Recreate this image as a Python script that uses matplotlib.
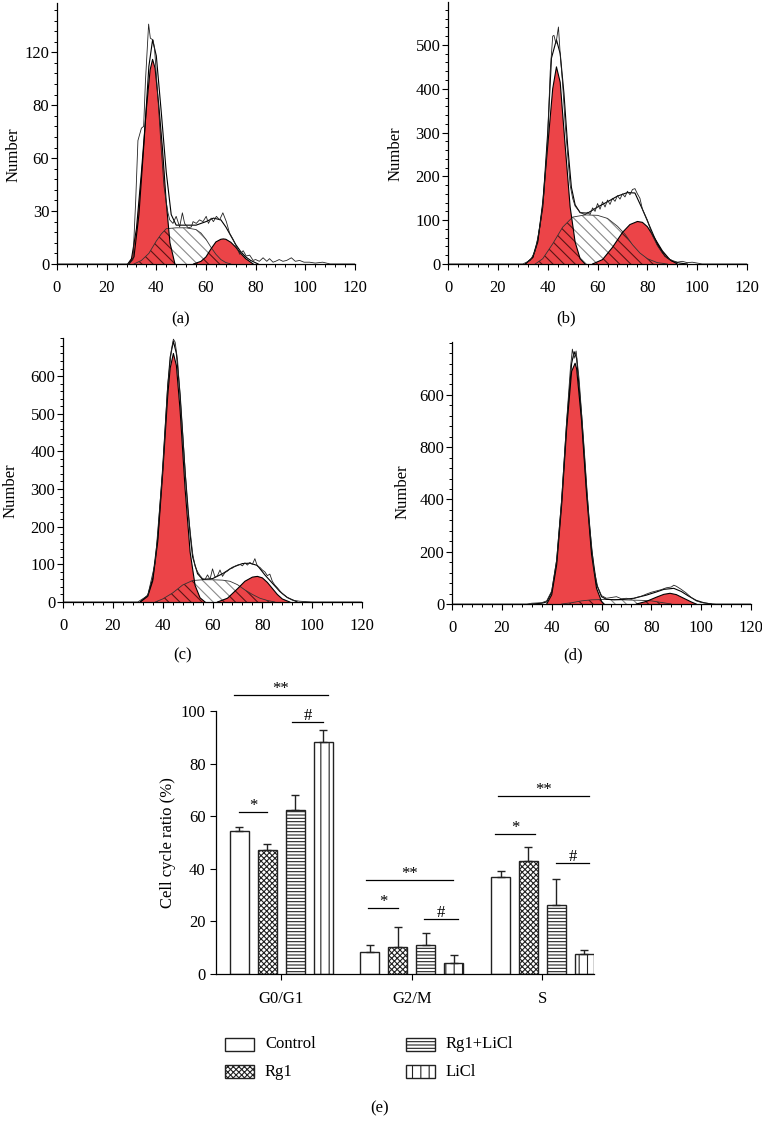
import numpy as np
import matplotlib
matplotlib.use('Agg')
import matplotlib.pyplot as plt
import matplotlib.ticker as tic
from matplotlib.patches import Rectangle

plt.rcParams['font.family'] = ['Liberation Serif', 'DejaVu Serif']
plt.rcParams['font.size'] = 12
plt.rcParams['hatch.linewidth'] = 0.8

RED = '#ec4448'

# ---- panel (a) ----
a_g1_x = [28.5, 30, 32, 34, 36, 37.5, 38.5, 39.5, 41, 42.5, 44, 45.5, 47.5]
a_g1_y = [0, 3, 20, 52, 88, 110, 116, 111, 90, 65, 35, 12, 0]
a_s_x = [31, 34, 37, 40, 42, 44, 48, 52, 56, 58, 60, 62, 64, 66, 68, 70]
a_s_y = [0, 2, 6, 13, 17, 20, 20.5, 20.5, 19.5, 17.5, 14, 9.5, 5.5, 2.5, 0.8, 0]
a_g2_x = [55, 58, 60, 62, 64, 66, 67, 68, 70, 72, 74, 76, 79]
a_g2_y = [0, 1.5, 4, 8.5, 12.5, 14, 14.2, 14, 12.3, 9.5, 6, 3, 0]
a_fit_x = [29, 31, 33, 35, 37, 38.5, 40, 42, 44, 46, 48, 52, 56, 60, 63, 66, 68, 70, 72, 74, 76, 78, 81]
a_fit_y = [0, 4, 28, 68, 112, 127, 118, 86, 52, 28, 22, 22, 22, 24, 26, 25, 21, 16, 11, 7, 4, 2, 0]
a_raw = [(0, 0), (29, 0), (30.6, 2.5), (31.7, 36), (32.6, 70), (34, 77), (34.9, 78), (35.6, 103), (36.9, 136),
         (37.6, 128), (38.7, 127), (39.3, 122), (40.7, 93), (42, 65), (43.1, 44), (44, 35), (44.7, 29), (45.4, 25),
         (46.7, 23), (48, 27), (49.4, 21), (50.5, 29), (51.4, 23), (52.8, 20.5), (54.1, 21), (54.8, 24), (56.1, 23),
         (57.4, 25), (58.8, 24), (60.1, 27), (61, 23), (62.1, 26), (63, 24), (64.2, 27), (65.5, 25), (66.8, 29),
         (68.2, 24), (69.5, 17.5), (70.9, 14), (72.2, 10), (73.6, 5.5), (75, 7.5), (76.2, 4.5), (77.6, 5), (79, 2),
         (80, 2.5), (81.5, 1.5), (83, 3.5), (84.5, 1.5), (85.6, 3), (87, 1), (88, 1.5), (89.5, 2.5), (91, 1.5),
         (92.5, 2), (94.4, 3.5), (96, 1.5), (97.7, 2), (99.5, 1), (101.7, 1), (104, 0.5), (107, 1), (110, 0), (120, 0)]

# ---- panel (b) ----
b_g1_x = [31, 34, 36, 38, 40, 42, 43.5, 45, 47, 49, 51, 53, 55]
b_g1_y = [0, 15, 50, 140, 270, 400, 450, 415, 270, 130, 50, 12, 0]
b_s_x = [35, 38, 42, 46, 50, 55, 60, 64, 68, 71, 74, 77, 80, 84, 88]
b_s_y = [0, 12, 46, 84, 107, 112, 111, 104, 86, 68, 44, 25, 12, 3, 0]
b_g2_x = [58, 62, 66, 70, 73, 76, 78, 80, 83, 86, 89, 92]
b_g2_y = [0, 10, 38, 72, 90, 97, 95, 85, 58, 30, 10, 0]
b_fit_x = [31, 34, 36, 38, 40, 41.5, 43.5, 45, 46.5, 48, 49.5, 51, 53, 56, 60, 64, 68, 72, 75, 78, 81, 84, 87, 90, 93, 96]
b_fit_y = [0, 15, 55, 130, 300, 470, 512, 480, 390, 270, 175, 135, 117, 116, 130, 142, 155, 163, 162, 125, 85, 45, 18, 6, 2, 0]
b_raw = [(0, 0), (30, 0), (33, 8), (35, 30), (37, 90), (38.5, 160), (40, 290), (41, 440), (42, 520), (42.5, 522),
         (43.3, 503), (44.3, 541), (45, 480), (46, 410), (47, 320), (48, 250), (49, 180), (50, 150), (51, 132),
         (52, 125), (53, 118), (54, 115), (55, 112), (56, 118), (57, 113), (58, 128), (59, 120), (60, 138), (61, 125),
         (62, 142), (63, 130), (64, 146), (65, 136), (66, 150), (67, 143), (68, 156), (69, 148), (70, 160), (71, 153),
         (72, 166), (73, 158), (74, 170), (75, 172), (76, 160), (77, 150), (78, 125), (80, 100), (82, 65), (84, 42),
         (86, 25), (88, 13), (90, 8), (92, 4), (94, 6), (96, 3), (98, 4), (100, 2), (102, 0), (120, 0)]

# ---- panel (c) ----
c_g1_x = [31, 34, 36, 38, 40, 42, 43, 44.3, 45.5, 47, 49, 51, 53, 55, 57]
c_g1_y = [0, 15, 56, 160, 341, 546, 621, 660, 628, 508, 300, 133, 44, 11, 0]
c_s_x = [37, 40, 44, 48, 52, 56, 60, 64, 67, 70, 73, 76, 79, 82, 85]
c_s_y = [0, 8, 24, 45, 57, 59, 59, 58, 55, 46, 32, 20, 10, 4, 0]
c_g2_x = [62, 66, 70, 73, 76, 78, 80, 82, 84, 86, 88, 91]
c_g2_y = [0, 10, 35, 55, 66, 68, 64, 52, 36, 20, 8, 0]
c_fit_x = [31, 34, 36, 38, 40, 42, 43, 44.3, 45.5, 47, 49, 51, 52, 54, 56, 60, 64, 68, 72, 75, 78, 81, 84, 87, 90, 94]
c_fit_y = [0, 18, 62, 170, 355, 570, 650, 692, 660, 550, 345, 180, 120, 75, 60, 62, 75, 92, 102, 103, 97, 72, 50, 28, 12, 0]
c_raw = [(0, 0), (30, 0), (34, 17), (37, 105), (40, 350), (42, 575), (43.5, 670), (44.3, 698), (45, 690), (46, 640),
         (48, 450), (50, 250), (52, 130), (53, 95), (54, 80), (55, 70), (56, 62), (57, 60), (58, 72), (59, 60),
         (60, 88), (61, 66), (62, 70), (63, 85), (64, 68), (65, 78), (66, 82), (67, 88), (68, 90), (69, 95), (70, 98),
         (71, 100), (72, 96), (73, 104), (74, 98), (75, 105), (76, 100), (77, 115), (78, 95), (79, 92), (80, 85),
         (81, 80), (82, 70), (83, 74), (84, 55), (85, 45), (86, 38), (88, 22), (90, 12), (92, 5), (95, 2), (100, 0),
         (120, 0)]

# ---- panel (d) ----
d_g1_x = [38, 40, 42, 44, 46, 48, 49.4, 50, 52, 54, 56, 58, 60, 61]
d_g1_y = [0, 35, 150, 380, 670, 890, 921, 900, 700, 420, 190, 60, 10, 0]
d_s_x = [44, 48, 52, 56, 60, 64, 68, 72, 76, 80, 84, 88]
d_s_y = [0, 5, 12, 16, 17, 17, 16, 15, 14, 12, 6, 0]
d_g2_x = [74, 78, 82, 85, 87.5, 90, 93, 96, 98]
d_g2_y = [0, 10, 26, 37, 41, 36, 22, 8, 0]
d_fit_x = [32, 36, 38, 40, 42, 44, 46, 48, 49, 50, 52, 54, 56, 58, 60, 62, 65, 69, 73, 78, 82, 85, 89, 92, 95, 98, 101, 104]
d_fit_y = [0, 3, 8, 45, 165, 395, 690, 920, 965, 940, 720, 440, 210, 75, 28, 18, 16, 18, 22, 34, 46, 56, 60, 48, 30, 14, 5, 0]
d_raw = [(0, 0), (30, 0), (32, 3), (36, 5), (38, 12), (40, 50), (42, 170), (44, 400), (46, 700), (47.5, 900),
         (48.3, 975), (49, 940), (49.8, 968), (51, 860), (53, 600), (55, 320), (57, 130), (58.5, 65), (60, 32),
         (62, 22), (64, 25), (66, 28), (68, 20), (70, 22), (72, 18), (74, 25), (76, 30), (78, 38), (80, 45), (82, 50),
         (84, 55), (86, 62), (88, 65), (89, 72), (90, 68), (92, 56), (94, 42), (96, 25), (98, 12), (100, 6), (103, 2),
         (106, 0), (120, 0)]

# ---- panel (e) ----
groups = ['G0/G1', 'G2/M', 'S']
series = ['Control', 'Rg1', 'Rg1+LiCl', 'LiCl']
control = [54.2, 8.5, 37.0]
control_err = [1.5, 2.5, 2.0]
rg1 = [47.0, 10.1, 42.8]
rg1_err = [2.3, 7.8, 5.4]
rg1licl = [62.5, 11.1, 26.4]
rg1licl_err = [5.5, 4.4, 9.8]
licl = [88.2, 4.1, 7.5]
licl_err = [4.7, 3.2, 1.6]
sig_x0 = [-0.362, 0.082, -0.324, 0.647, 0.662, 1.094, 1.661, 1.640, 2.103]
sig_x1 = [0.358, 0.320, -0.109, 1.316, 0.895, 1.352, 2.358, 1.942, 2.358]
sig_y = [106.0, 95.9, 61.7, 35.7, 25.1, 20.8, 67.7, 53.2, 42.3]
sig_txt = ['**', '#', '*', '**', '*', '#', '**', '*', '#']


def hist_panel(ax, g1x, g1y, sx, sy, g2x, g2y, fx, fy, raw, ytop, yt, ylab, ymin_step):
    ax.fill_between(sx, sy, 0, facecolor='white', edgecolor='#8a8a8a', hatch='\\\\\\', lw=0)
    g1 = ax.fill_between(g1x, g1y, 0, facecolor=RED, lw=0)
    g2 = ax.fill_between(g2x, g2y, 0, facecolor=RED, lw=0)
    for g in (g1, g2):
        h = ax.fill_between(sx, sy, 0, facecolor='none', edgecolor='#5a1414', hatch='\\\\\\', lw=0)
        h.set_clip_path(g.get_paths()[0], ax.transData)
    ax.plot(sx, sy, color='#333333', lw=0.6)
    ax.plot(g1x, g1y, color='black', lw=0.8)
    ax.plot(g2x, g2y, color='black', lw=0.8)
    ax.plot(fx, fy, color='black', lw=0.8)
    rx, ry = zip(*raw)
    ax.plot(rx, ry, color='#222222', lw=0.6)
    ax.set_xlim(0, 120)
    ax.set_ylim(0, ytop)
    ax.set_xticks(range(0, 121, 20))
    ax.xaxis.set_minor_locator(tic.MultipleLocator(4))
    ax.set_yticks(yt)
    ax.set_yticklabels(ylab)
    ax.yaxis.set_minor_locator(tic.MultipleLocator(ymin_step))
    for s in ('top', 'right'):
        ax.spines[s].set_visible(False)
    for s in ('left', 'bottom'):
        ax.spines[s].set_linewidth(0.9)
    ax.tick_params(which='major', length=4.5, width=0.8, direction='out', labelsize=12)
    ax.tick_params(axis='x', which='major', pad=7)
    ax.tick_params(axis='y', which='major', pad=1)
    ax.tick_params(which='minor', length=2.5, width=0.7, direction='out')
    ax.set_ylabel('Number', fontsize=12)


fig = plt.figure(figsize=(7.62, 11.29), dpi=100)

ax_a = fig.add_axes([0.0748, 0.7662, 0.391, 0.2312])
hist_panel(ax_a, a_g1_x, a_g1_y, a_s_x, a_s_y, a_g2_x, a_g2_y, a_fit_x, a_fit_y, a_raw,
           148, [0, 30, 60, 90, 120], ['0', '30', '60', '80', '120'], 6)
ax_a.yaxis.set_label_coords(-0.119, 0.42)

ax_b = fig.add_axes([0.588, 0.7662, 0.3924, 0.232])
hist_panel(ax_b, b_g1_x, b_g1_y, b_s_x, b_s_y, b_g2_x, b_g2_y, b_fit_x, b_fit_y, b_raw,
           598, [0, 100, 200, 300, 400, 500], ['0', '100', '200', '300', '400', '500'], 20)
ax_b.yaxis.set_label_coords(-0.15, 0.42)

ax_c = fig.add_axes([0.0827, 0.4668, 0.3924, 0.2338])
hist_panel(ax_c, c_g1_x, c_g1_y, c_s_x, c_s_y, c_g2_x, c_g2_y, c_fit_x, c_fit_y, c_raw,
           701, [0, 100, 200, 300, 400, 500, 600], ['0', '100', '200', '300', '400', '500', '600'], 20)
ax_c.yaxis.set_label_coords(-0.15, 0.42)

ax_d = fig.add_axes([0.5932, 0.465, 0.3924, 0.232])
hist_panel(ax_d, d_g1_x, d_g1_y, d_s_x, d_s_y, d_g2_x, d_g2_y, d_fit_x, d_fit_y, d_raw,
           1002, [0, 200, 400, 600, 800], ['0', '200', '400', '800', '600'], 40)
ax_d.yaxis.set_label_coords(-0.14, 0.43)

# bar chart
ax_e = fig.add_axes([0.2835, 0.1373, 0.496, 0.233])
xg = np.arange(len(groups))
step = 0.214
width = 0.146
vals = [control, rg1, rg1licl, licl]
errs = [control_err, rg1_err, rg1licl_err, licl_err]
hatches = ['', 'xxxxxx', '-----', '||']
for i in range(4):
    pos = xg + (i - 1.5) * step
    ax_e.bar(pos, vals[i], width, facecolor='white', edgecolor='#222222', lw=1.0, hatch=hatches[i], zorder=2)
    ax_e.errorbar(pos, vals[i], yerr=[np.zeros(3), errs[i]], fmt='none', ecolor='#222222',
                  elinewidth=1.0, capsize=3, capthick=1.0, zorder=3)
for x0, x1, y, t in zip(sig_x0, sig_x1, sig_y, sig_txt):
    ax_e.plot([x0, x1], [y, y], color='black', lw=0.9, clip_on=False)
    ax_e.text((x0 + x1) / 2, y + 2.2, t, ha='center', va='center', fontsize=12, clip_on=False)
ax_e.set_xlim(-0.5, 2.395)
ax_e.set_ylim(0, 100)
ax_e.set_xticks(xg)
ax_e.set_xticklabels(groups)
ax_e.set_yticks(range(0, 101, 20))
for s in ('top', 'right'):
    ax_e.spines[s].set_visible(False)
for s in ('left', 'bottom'):
    ax_e.spines[s].set_linewidth(0.9)
ax_e.tick_params(length=4, width=0.8, direction='out', labelsize=12)
ax_e.tick_params(axis='x', pad=8)
ax_e.tick_params(axis='y', pad=3.5)
ax_e.set_ylabel('Cell cycle ratio (%)', fontsize=12)
ax_e.yaxis.set_label_coords(-0.105, 0.5)

# legend drawn by hand in figure pixels
W, H = 762, 1129
leg_box = [(225, 1038), (225, 1065), (406, 1038), (406, 1065)]
for (px, py), lab, hat in zip(leg_box, series, hatches):
    fig.add_artist(Rectangle((px / W, 1 - (py + 13) / H), 29 / W, 13 / H, transform=fig.transFigure,
                             facecolor='white', edgecolor='#222222', lw=1.0, hatch=hat))
    fig.text((px + 40) / W, 1 - (py + 6.5) / H, lab, ha='left', va='center', fontsize=12)

for lab, px, py in [('(a)', 181, 319), ('(b)', 566, 318), ('(c)', 183, 655), ('(d)', 573, 655), ('(e)', 380, 1108)]:
    fig.text(px / W, 1 - py / H, lab, ha='center', va='center', fontsize=12)

fig.savefig('out.png', dpi=100)
